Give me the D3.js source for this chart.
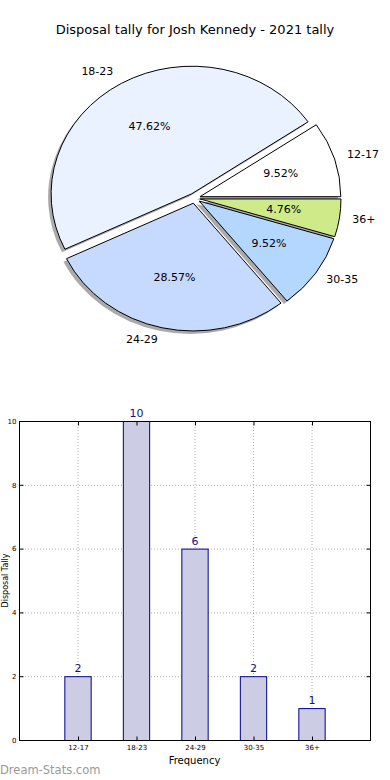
<!DOCTYPE html>
<html>
<head>
<meta charset="utf-8">
<script src="https://cdn.jsdelivr.net/npm/d3@7"></script>
<style>
  html, body { margin: 0; padding: 0; background: #fff; }
  svg { display: block; font-family: "DejaVu Sans", sans-serif; }
</style>
</head>
<body>
<svg id="chart" width="390" height="780"></svg>
<script>
const title = "Disposal tally for Josh Kennedy - 2021 tally";
const categories = ["12-17", "18-23", "24-29", "30-35", "36+"];
const counts = [2, 10, 6, 2, 1];
const pieColors = ["#ffffff", "#ebf2ff", "#c6d9ff", "#b4d7ff", "#cfea88"];
const yTicks = [0, 2, 4, 6, 8, 10];
const xLabel = "Frequency";
const yLabel = "Disposal Tally";
const watermark = "Dream-Stats.com";

const svg = d3.select("#chart");

// Title
svg.append("text").attr("x", 195).attr("y", 30)
  .attr("text-anchor", "middle").attr("dominant-baseline", "middle")
  .attr("font-size", 13).attr("fill", "#000").text(title);

// ---------- Pie ----------
const cx = 194.6, cy = 198.2, rx = 140.8, ry = 127.8, explode = 0.04;
const total = d3.sum(counts);
const pie = d3.pie().sort(null).value(d => d)
  .startAngle(Math.PI / 2).endAngle(Math.PI / 2 - 2 * Math.PI);
const arcs = pie(counts);
const unitArc = d3.arc().innerRadius(0).outerRadius(1);

function mid(a) { return Math.PI / 2 - (a.startAngle + a.endAngle) / 2; }
function pt(theta, f) { return [cx + f * rx * Math.cos(theta), cy - f * ry * Math.sin(theta)]; }
function arcPath(d) {
  return unitArc({startAngle: Math.min(d.startAngle, d.endAngle), endAngle: Math.max(d.startAngle, d.endAngle)});
}

const pieG = svg.append("g");
// shadows
pieG.selectAll("path.shadow").data(arcs).enter().append("path")
  .attr("class", "shadow")
  .attr("d", arcPath)
  .attr("transform", d => {
    const o = pt(mid(d), explode);
    return `translate(${o[0] - 3},${o[1] + 3}) scale(${rx},${ry})`;
  })
  .attr("fill", "#555").attr("fill-opacity", 0.5).attr("stroke", "none");
// slices
pieG.selectAll("path.slice").data(arcs).enter().append("path")
  .attr("class", "slice")
  .attr("d", arcPath)
  .attr("transform", d => {
    const o = pt(mid(d), explode);
    return `translate(${o[0]},${o[1]}) scale(${rx},${ry})`;
  })
  .attr("fill", (d, i) => pieColors[i])
  .attr("stroke", "#000").attr("stroke-width", 1)
  .attr("vector-effect", "non-scaling-stroke")
  .attr("stroke-linejoin", "miter");

// labels
arcs.forEach((d, i) => {
  const th = mid(d);
  const lp = pt(th, 1.1 + explode);
  svg.append("text")
    .attr("x", lp[0] - 1).attr("y", lp[1])
    .attr("text-anchor", Math.cos(th) >= 0 ? "start" : "end")
    .attr("dominant-baseline", "middle")
    .attr("font-size", 11).attr("fill", "#000").text(categories[i]);
  const pp = pt(th, 0.6 + explode);
  svg.append("text")
    .attr("x", pp[0]).attr("y", pp[1])
    .attr("text-anchor", "middle").attr("dominant-baseline", "middle")
    .attr("font-size", 11).attr("fill", "#000")
    .text((counts[i] / total * 100).toFixed(2) + "%");
});

// ---------- Bar chart ----------
const pLeft = 19, pRight = 370, pTop = 421, pBottom = 740;
const x = d3.scaleLinear().domain([-1, 5]).range([pLeft, pRight]);
const y = d3.scaleLinear().domain([0, 10]).range([pBottom, pTop]);
const barW = 0.45;
const g = svg.append("g");

// grid
g.selectAll("line.gy").data(yTicks).enter().append("line")
  .attr("x1", pLeft).attr("x2", pRight).attr("y1", d => y(d) + 0.5).attr("y2", d => y(d) + 0.5)
  .attr("stroke", "#b0b0b0").attr("stroke-width", 1).attr("stroke-dasharray", "1,2");
g.selectAll("line.gx").data(categories).enter().append("line")
  .attr("x1", (d, i) => x(i) + 0.5).attr("x2", (d, i) => x(i) + 0.5).attr("y1", pTop).attr("y2", pBottom)
  .attr("stroke", "#b0b0b0").attr("stroke-width", 1).attr("stroke-dasharray", "1,2");

// bars
g.selectAll("rect.bar").data(counts).enter().append("rect")
  .attr("x", (d, i) => x(i - barW / 2) + 0.5)
  .attr("width", x(barW) - x(0))
  .attr("y", d => y(d) + 0.5)
  .attr("height", d => y(0) - y(d))
  .attr("fill", "#cccce5").attr("stroke", "#00008b").attr("stroke-width", 1);

// value labels
g.selectAll("text.val").data(counts).enter().append("text")
  .attr("x", (d, i) => x(i) + 0.5).attr("y", d => y(d) - 4)
  .attr("text-anchor", "middle").attr("font-size", 11).attr("fill", "#10108f")
  .text(d => d);

// frame
g.append("rect").attr("x", pLeft + 0.5).attr("y", pTop + 0.5)
  .attr("width", pRight - pLeft).attr("height", pBottom - pTop)
  .attr("fill", "none").attr("stroke", "#000").attr("stroke-width", 1);

// y axis ticks
const yAxis = d3.axisLeft(y).tickValues(yTicks).tickSize(-4).tickPadding(3).tickFormat(d3.format("d"));
const ya = g.append("g").attr("transform", `translate(${pLeft + 0.5},0)`).call(yAxis);
ya.select(".domain").remove();
ya.selectAll("text").attr("font-size", 7).attr("font-family", "DejaVu Sans, sans-serif").attr("fill", "#000");
ya.selectAll("line").attr("stroke", "#000");
const yAxisR = d3.axisRight(y).tickValues(yTicks).tickSize(-4).tickFormat("");
const yr = g.append("g").attr("transform", `translate(${pRight + 0.5},0)`).call(yAxisR);
yr.select(".domain").remove();

// x axis ticks
const xAxis = d3.axisBottom(x).tickValues(d3.range(categories.length)).tickSize(-4).tickPadding(5)
  .tickFormat(i => categories[i]);
const xa = g.append("g").attr("transform", `translate(0.5,${pBottom + 0.5})`).call(xAxis);
xa.select(".domain").remove();
xa.selectAll("text").attr("font-size", 7).attr("font-family", "DejaVu Sans, sans-serif").attr("fill", "#000");
const xAxisT = d3.axisTop(x).tickValues(d3.range(categories.length)).tickSize(-4).tickFormat("");
const xt = g.append("g").attr("transform", `translate(0.5,${pTop + 0.5})`).call(xAxisT);
xt.select(".domain").remove();

// axis labels
svg.append("text").attr("x", (pLeft + pRight) / 2).attr("y", 761)
  .attr("text-anchor", "middle").attr("dominant-baseline", "middle")
  .attr("font-size", 10).attr("fill", "#000").text(xLabel);
svg.append("text").attr("transform", `translate(5,${(pTop + pBottom) / 2}) rotate(-90)`)
  .attr("text-anchor", "middle").attr("dominant-baseline", "middle")
  .attr("font-size", 8).attr("fill", "#000").text(yLabel);

// watermark
svg.append("text").attr("x", 0).attr("y", 770)
  .attr("dominant-baseline", "middle")
  .attr("font-size", 11.5).attr("fill", "#999").attr("font-family", "\"DejaVu Sans\", sans-serif")
  .text(watermark);
</script>
</body>
</html>
